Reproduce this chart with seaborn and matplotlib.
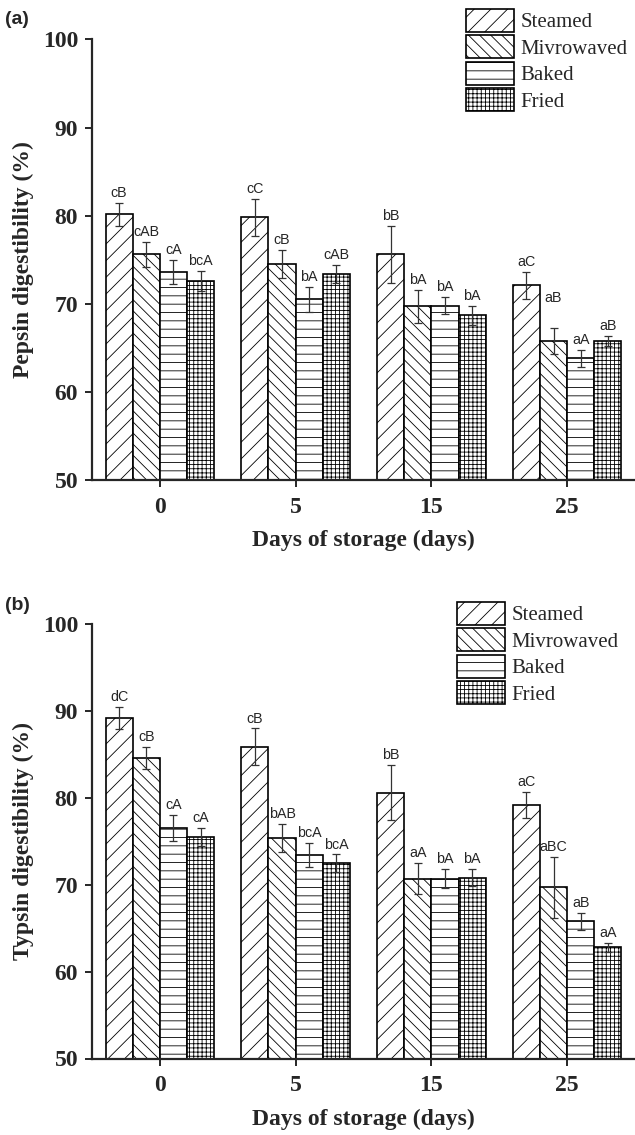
import numpy as np
import pandas as pd
import seaborn as sns
import matplotlib.pyplot as plt
from matplotlib.patches import Patch

# storage days and cooking methods
days = ["0", "5", "15", "25"]
methods = ["Steamed", "Mivrowaved", "Baked", "Fried"]

# pepsin digestibility (%) per method, one value per storage day
pepsin_steamed = [80.15, 79.8, 75.6, 72.1]
pepsin_micro = [75.6, 74.5, 69.7, 65.8]
pepsin_baked = [73.6, 70.5, 69.8, 63.8]
pepsin_fried = [72.6, 73.4, 68.7, 65.8]

pepsin_sd_steamed = [1.3, 2.1, 3.2, 1.5]
pepsin_sd_micro = [1.4, 1.6, 1.9, 1.5]
pepsin_sd_baked = [1.4, 1.4, 1.0, 1.0]
pepsin_sd_fried = [1.1, 1.0, 1.1, 0.6]

pepsin_let_steamed = ["cB", "cC", "bB", "aC"]
pepsin_let_micro = ["cAB", "cB", "bA", "aB"]
pepsin_let_baked = ["cA", "bA", "bA", "aA"]
pepsin_let_fried = ["bcA", "cAB", "bA", "aB"]

# trypsin digestibility (%)
trypsin_steamed = [89.2, 85.9, 80.6, 79.2]
trypsin_micro = [84.6, 75.4, 70.7, 69.7]
trypsin_baked = [76.5, 73.4, 70.7, 65.8]
trypsin_fried = [75.5, 72.5, 70.8, 62.8]

trypsin_sd_steamed = [1.3, 2.1, 3.2, 1.5]
trypsin_sd_micro = [1.3, 1.6, 1.8, 3.5]
trypsin_sd_baked = [1.5, 1.4, 1.1, 1.0]
trypsin_sd_fried = [1.0, 1.0, 1.0, 0.5]

trypsin_let_steamed = ["dC", "cB", "bB", "aC"]
trypsin_let_micro = ["cB", "bAB", "aA", "aBC"]
trypsin_let_baked = ["cA", "bcA", "bA", "aB"]
trypsin_let_fried = ["cA", "bcA", "bA", "aA"]

hatches = ["//", "\\\\\\", "--", "++++"]

sns.set_style("ticks")
plt.rcParams["font.family"] = ["Liberation Serif", "DejaVu Serif"]
plt.rcParams["hatch.linewidth"] = 0.6

W, H = 635, 1135


def long_table(series):
    rows = []
    for m, vals in zip(methods, series):
        for d, v in zip(days, vals):
            rows.append({"day": d, "method": m, "value": v})
    return pd.DataFrame(rows)


def draw_panel(ax, series, sds, letters, ylabel, lift=None):
    df = long_table(series)
    sns.barplot(data=df, x="day", y="value", hue="method", order=days,
                hue_order=methods, palette=["white"] * 4, saturation=1,
                edgecolor="black", linewidth=1.2, errorbar=None,
                legend=False, ax=ax)
    bar_sets = list(ax.containers)
    for i, cont in enumerate(bar_sets):
        xs, hs = [], []
        for bar in cont.patches:
            bar.set_hatch(hatches[i])
            xs.append(bar.get_x() + bar.get_width() / 2)
            hs.append(bar.get_height())
        ax.errorbar(xs, hs, yerr=sds[i], fmt="none", ecolor="#333333",
                    elinewidth=0.9, capsize=3, capthick=0.9, zorder=3)
        for j, (x, h) in enumerate(zip(xs, hs)):
            extra = 0
            if lift and (i, j) in lift:
                extra = lift[(i, j)]
            ax.annotate(letters[i][j], (x, h + sds[i][j] + extra),
                        xytext=(0, 2), textcoords="offset points",
                        ha="center", va="bottom", fontsize=10.3,
                        family="Liberation Sans", zorder=4)

    ax.set_ylim(50, 100)
    ax.set_xlim(-0.5, 3.5)
    ax.set_yticks([50, 60, 70, 80, 90, 100])
    sns.despine(ax=ax)
    for s in ["left", "bottom"]:
        ax.spines[s].set_linewidth(1.6)
    ax.tick_params(axis="both", direction="out", length=5, width=1.4,
                   labelsize=17, pad=5)
    ax.tick_params(axis="x", pad=7)
    plt.setp(ax.get_xticklabels(), fontweight="bold")
    plt.setp(ax.get_yticklabels(), fontweight="bold")

    ax.set_ylabel(ylabel, fontsize=17, fontweight="bold")
    ax.set_xlabel("Days of storage (days)", fontsize=17, fontweight="bold")
    ax.yaxis.set_label_coords(-0.107, 0.5)


fig = plt.figure(figsize=(W / 100, H / 100), dpi=100)

left = 92 / W
width = 1 - left
ax1 = fig.add_axes([left, 1 - 480 / H, width, 440.5 / H])
ax2 = fig.add_axes([left, 1 - 1058.5 / H, width, 434.5 / H])

draw_panel(ax1,
           [pepsin_steamed, pepsin_micro, pepsin_baked, pepsin_fried],
           [pepsin_sd_steamed, pepsin_sd_micro, pepsin_sd_baked, pepsin_sd_fried],
           [pepsin_let_steamed, pepsin_let_micro, pepsin_let_baked, pepsin_let_fried],
           "Pepsin digestibility (%)", lift={(1, 3): 2.3})
ax1.xaxis.set_label_coords(0.5, -50 / 440.5)

draw_panel(ax2,
           [trypsin_steamed, trypsin_micro, trypsin_baked, trypsin_fried],
           [trypsin_sd_steamed, trypsin_sd_micro, trypsin_sd_baked, trypsin_sd_fried],
           [trypsin_let_steamed, trypsin_let_micro, trypsin_let_baked, trypsin_let_fried],
           "Typsin digestibility (%)")
ax2.xaxis.set_label_coords(0.5, -50 / 434.5)

# legends sit above the plotting area, no frame
for xpix, ypix in [(466, 9), (457, 602)]:
    handles = [Patch(facecolor="white", edgecolor="black", hatch=h, lw=1.2)
               for h in hatches]
    fig.legend(handles, methods, loc="upper left",
               bbox_to_anchor=(xpix / W, 1 - ypix / H), frameon=False,
               fontsize=15, handlelength=2.3, handleheight=1.3,
               handletextpad=0.3, labelspacing=0.15, borderpad=0,
               borderaxespad=0)

fig.text(5 / W, 1 - 20 / H, "(a)", family="Liberation Sans",
         fontweight="bold", fontsize=14, va="center")
fig.text(5 / W, 1 - 605 / H, "(b)", family="Liberation Sans",
         fontweight="bold", fontsize=14, va="center")

fig.savefig("out.png", dpi=100)
